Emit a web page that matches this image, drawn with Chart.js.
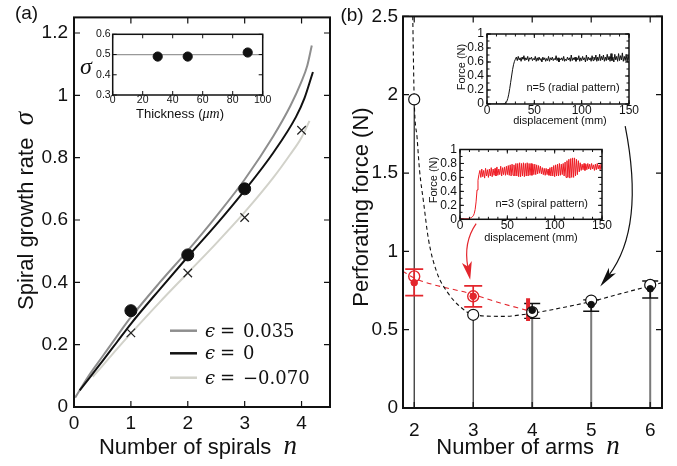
<!DOCTYPE html>
<html>
<head>
<meta charset="utf-8">
<script src="https://cdn.jsdelivr.net/npm/chart.js@4.4.1/dist/chart.umd.min.js"></script>
<style>
  html, body { margin: 0; padding: 0; background: #fff; }
  #wrap { position: relative; width: 677px; height: 466px; }
  #wrap canvas { position: absolute; left: 0; top: 0; }
</style>
</head>
<body>
<div id="wrap">
  <canvas id="mainA" width="677" height="466"></canvas>
  <canvas id="insetA" width="677" height="466"></canvas>
  <canvas id="mainB" width="677" height="466"></canvas>
  <canvas id="insetB1" width="677" height="466"></canvas>
  <canvas id="insetB2" width="677" height="466"></canvas>
</div>
<script>
/* ---------- panel (a): spiral growth rate ---------- */
const spiralN = [1, 2, 3];
const sigmaDots = [0.309, 0.488, 0.70];
const crossN = [1, 2, 3, 4];
const sigmaCross = [0.238, 0.43, 0.608, 0.888];

// model curves, eps = 0.035 / 0 / -0.070
const curvePosN = [0.02, 0.25, 0.5, 0.75, 1, 1.5, 2, 2.5, 3, 3.5, 3.8, 4.0, 4.1, 4.18];
const curvePosS = [0.03, 0.098, 0.162, 0.226, 0.288, 0.398, 0.502, 0.612, 0.73, 0.868, 0.965, 1.045, 1.095, 1.16];
const curveZeroN = [0.1, 0.3, 0.5, 0.75, 1, 1.5, 2, 2.5, 3, 3.5, 3.9, 4.05, 4.2];
const curveZeroS = [0.053, 0.10, 0.147, 0.207, 0.267, 0.376, 0.482, 0.585, 0.695, 0.815, 0.93, 0.99, 1.075];
const curveNegN = [0.33, 0.5, 0.75, 1, 1.5, 2, 2.5, 3, 3.5, 3.8, 4.0, 4.14];
const curveNegS = [0.097, 0.132, 0.185, 0.236, 0.335, 0.43, 0.525, 0.625, 0.735, 0.81, 0.865, 0.918];
const legendValues = ['0.035', '0', '\u22120.070'];

// inset (a): sigma vs thickness
const thickness = [30, 50, 90];
const sigmaThick = [0.49, 0.49, 0.51];
const sigmaRef = 0.5;

/* ---------- panel (b): perforating force ---------- */
const armsN = [2, 3, 4, 5, 6];
const forceOpen = [1.97, 0.595, 0.612, 0.686, 0.786];
const meanN = [4, 5, 6];
const forceMean = [0.624, 0.66, 0.761];
const errLo = [0.572, 0.618, 0.702];
const errHi = [0.667, 0.69, 0.811];
const redN = [2, 3];
const redOpen = [0.84, 0.713];
const redMean = [0.80, 0.713];
const redLo = [0.717, 0.645];
const redHi = [0.887, 0.78];
const redBarN = 3.93, redBarLo = 0.555, redBarHi = 0.70;
const fitN = [1.975, 2.0, 2.05, 2.09, 2.16, 2.24, 2.38, 2.58, 2.8, 3.0, 3.5, 4.0, 4.5, 5.0, 5.5, 6.0, 6.2];
const fitF = [2.5, 1.97, 1.72, 1.52, 1.31, 1.08, 0.87, 0.73, 0.64, 0.595, 0.585, 0.605, 0.64, 0.68, 0.73, 0.78, 0.80];
const redFitN = [1.8, 2, 3, 3.46, 3.9];
const redFitF = [0.875, 0.83, 0.725, 0.67, 0.625];
const blackArrow = [[5.576, 1.80], [5.915, 1.151], [5.153, 0.776]];
const redArrow = [[3.05, 1.177], [2.83, 1.058], [2.949, 0.819]];

// inset traces, force (N) every 1 mm of displacement, 0..150 mm
const radialForce = [
  0, 0, 0, 0, 0, 0, 0, 0, 0, 0,
  0, 0, 0, 0, 0, 0, 0, 0, 0.005, 0.01,
  0.02, 0.04, 0.08, 0.14, 0.22, 0.31, 0.40, 0.49, 0.56, 0.61,
  0.64, 0.67, 0.62, 0.68, 0.63, 0.66, 0.61, 0.67, 0.64, 0.69,
  0.62, 0.66, 0.63, 0.68, 0.61, 0.66, 0.64, 0.67, 0.62, 0.65,
  0.63, 0.68, 0.61, 0.66, 0.62, 0.67, 0.63, 0.65, 0.60, 0.67,
  0.63, 0.66, 0.61, 0.65, 0.62, 0.68, 0.61, 0.66, 0.63, 0.67,
  0.62, 0.65, 0.63, 0.69, 0.62, 0.66, 0.60, 0.65, 0.63, 0.66,
  0.62, 0.68, 0.61, 0.64, 0.62, 0.67, 0.63, 0.66, 0.61, 0.70,
  0.62, 0.66, 0.63, 0.67, 0.61, 0.66, 0.63, 0.69, 0.61, 0.66,
  0.62, 0.68, 0.63, 0.66, 0.60, 0.70, 0.62, 0.67, 0.63, 0.66,
  0.61, 0.69, 0.62, 0.67, 0.63, 0.70, 0.61, 0.67, 0.62, 0.71,
  0.62, 0.68, 0.63, 0.70, 0.61, 0.67, 0.62, 0.71, 0.63, 0.68,
  0.61, 0.72, 0.62, 0.67, 0.60, 0.71, 0.63, 0.68, 0.61, 0.72,
  0.62, 0.69, 0.63, 0.73, 0.61, 0.68, 0.62, 0.71, 0.60, 0.70,
  0.63
];
const spiralForce = [
  0.01, 0.01, 0.01, 0.01, 0.01, 0.01, 0.01, 0.01, 0.01, 0.012,
  0.015, 0.02, 0.025, 0.035, 0.05, 0.08, 0.14, 0.25, 0.42, 0.56,
  0.64, 0.70, 0.60, 0.72, 0.61, 0.70, 0.59, 0.73, 0.62, 0.71,
  0.60, 0.72, 0.62, 0.74, 0.61, 0.72, 0.63, 0.73, 0.62, 0.75,
  0.63, 0.72, 0.64, 0.76, 0.62, 0.74, 0.64, 0.75, 0.63, 0.76,
  0.64, 0.77, 0.63, 0.78, 0.62, 0.79, 0.63, 0.78, 0.62, 0.80,
  0.62, 0.80, 0.61, 0.81, 0.61, 0.80, 0.62, 0.81, 0.61, 0.80,
  0.62, 0.81, 0.62, 0.80, 0.63, 0.80, 0.63, 0.79, 0.64, 0.79,
  0.64, 0.78, 0.65, 0.77, 0.66, 0.76, 0.65, 0.74, 0.64, 0.73,
  0.63, 0.73, 0.64, 0.72, 0.63, 0.74, 0.62, 0.75, 0.62, 0.77,
  0.61, 0.78, 0.62, 0.79, 0.62, 0.80, 0.63, 0.79, 0.64, 0.80,
  0.62, 0.82, 0.60, 0.84, 0.60, 0.86, 0.59, 0.87, 0.60, 0.88,
  0.60, 0.88, 0.62, 0.86, 0.64, 0.84, 0.68, 0.81, 0.70, 0.79,
  0.71, 0.80, 0.70, 0.79, 0.71, 0.80, 0.72, 0.79, 0.71, 0.80,
  0.72, 0.78, 0.70, 0.79, 0.71, 0.80, 0.72, 0.78, 0.71, 0.79,
  0.72
];

/* ---------- shared helpers ---------- */
const W = 677, H = 466;
const SANS = '"Liberation Sans", Arial, sans-serif';
const SERIF = '"Liberation Serif", "Times New Roman", serif';
const RED = '#e3262d';
const INK = '#111';

const pts = (xs, ys) => xs.map((v, i) => ({ x: v, y: ys[i] }));

function steps(lo, hi, d) {
    const out = [];
    for (let v = Math.ceil(lo / d - 1e-9) * d; v <= hi + 1e-9; v += d) out.push(v);
    return out;
}

function axis(min, max, step, size, pad, fit, isY) {
    return {
        type: 'linear', min, max,
        grid: { display: false, drawTicks: false },
        border: { display: false },
        ticks: {
            stepSize: step, includeBounds: false, autoSkip: false, maxRotation: 0,
            padding: pad, color: INK, font: { family: SANS, size },
            callback: v => String(+v.toFixed(2))
        },
        afterFit: s => { if (isY) s.width = fit; else s.height = fit; }
    };
}

// frame l/t/r/b are page pixels; axis boxes get fixed sizes so the plot area lands there
function layoutFor(f, yW, xH) {
    return { padding: { left: f.l - yW, top: f.t, right: W - f.r, bottom: H - f.b - xH } };
}

// box round the plot with inward ticks on all four sides
function frameTicks(o) {
    return {
        id: 'frameTicks',
        afterDatasetsDraw(chart) {
            const { ctx, chartArea: a, scales: { x, y } } = chart;
            ctx.save();
            ctx.strokeStyle = INK;
            ctx.lineWidth = o.tickW;
            ctx.beginPath();
            const mark = (vals, len, alongX) => vals.forEach(v => {
                if (alongX) {
                    const p = x.getPixelForValue(v);
                    ctx.moveTo(p, a.bottom); ctx.lineTo(p, a.bottom - len);
                    ctx.moveTo(p, a.top); ctx.lineTo(p, a.top + len);
                } else {
                    const p = y.getPixelForValue(v);
                    ctx.moveTo(a.left, p); ctx.lineTo(a.left + len, p);
                    ctx.moveTo(a.right, p); ctx.lineTo(a.right - len, p);
                }
            });
            mark(x.ticks.map(t => t.value), o.len, true);
            mark(y.ticks.map(t => t.value), o.len, false);
            if (o.minorX) mark(steps(x.min, x.max, o.minorX), o.minorLen, true);
            if (o.minorY) mark(steps(y.min, y.max, o.minorY), o.minorLen, false);
            ctx.stroke();
            ctx.lineWidth = o.frameW;
            ctx.strokeRect(a.left, a.top, a.right - a.left, a.bottom - a.top);
            ctx.restore();
        }
    };
}

// text made of runs in different fonts, centred on (x, y) baseline
function textRuns(ctx, parts, x, y, rotate) {
    ctx.save();
    ctx.translate(x, y);
    if (rotate) ctx.rotate(rotate);
    ctx.textBaseline = 'alphabetic';
    ctx.textAlign = 'left';
    let total = 0;
    parts.forEach(p => { ctx.font = p[1]; total += ctx.measureText(p[0]).width; });
    let cx = -total / 2;
    parts.forEach(p => {
        ctx.font = p[1];
        ctx.fillStyle = p[2] || INK;
        ctx.fillText(p[0], cx, 0);
        cx += ctx.measureText(p[0]).width;
    });
    ctx.restore();
}

function drawArrow(ctx, x, y, path, color, headLen, headW) {
    const [p0, c, p1] = path.map(([n, f]) => [x.getPixelForValue(n), y.getPixelForValue(f)]);
    const ang = Math.atan2(p1[1] - c[1], p1[0] - c[0]);
    const cos = Math.cos(ang), sin = Math.sin(ang);
    ctx.save();
    ctx.strokeStyle = color;
    ctx.fillStyle = color;
    ctx.lineWidth = 1.2;
    ctx.beginPath();
    ctx.moveTo(p0[0], p0[1]);
    ctx.quadraticCurveTo(c[0], c[1], p1[0] - cos * headLen * 0.7, p1[1] - sin * headLen * 0.7);
    ctx.stroke();
    ctx.beginPath();
    ctx.moveTo(p1[0], p1[1]);
    ctx.lineTo(p1[0] - cos * headLen - sin * headW, p1[1] - sin * headLen + cos * headW);
    ctx.lineTo(p1[0] - cos * headLen * 0.75, p1[1] - sin * headLen * 0.75);
    ctx.lineTo(p1[0] - cos * headLen + sin * headW, p1[1] - sin * headLen - cos * headW);
    ctx.closePath();
    ctx.fill();
    ctx.restore();
}

const baseOpts = (layout, scales) => ({
    responsive: false, animation: false, events: [],
    layout, scales,
    plugins: { legend: { display: false }, tooltip: { enabled: false } }
});

/* ---------- chart (a) ---------- */
const frameA = { l: 74, t: 13, r: 330, b: 407 };
new Chart(document.getElementById('mainA'), {
    type: 'line',
    data: {
        datasets: [
            { data: pts(spiralN, sigmaDots), showLine: false, pointRadius: 6, pointBackgroundColor: INK, pointBorderColor: INK, order: 0 },
            { data: pts(crossN, sigmaCross), showLine: false, pointStyle: 'crossRot', pointRadius: 6, pointBorderColor: '#222', pointBorderWidth: 1.2, order: 1 },
            { data: pts(curveNegN, curveNegS), borderColor: '#d2d2ca', borderWidth: 2, pointRadius: 0, cubicInterpolationMode: 'monotone', order: 4 },
            { data: pts(curvePosN, curvePosS), borderColor: '#8e8e8e', borderWidth: 2, pointRadius: 0, cubicInterpolationMode: 'monotone', order: 3 },
            { data: pts(curveZeroN, curveZeroS), borderColor: INK, borderWidth: 2, pointRadius: 0, cubicInterpolationMode: 'monotone', order: 2 }
        ]
    },
    options: baseOpts(layoutFor(frameA, 60, 40), {
        x: axis(0, 4.5, 1, 19, 5, 40, false),
        y: axis(0, 1.25, 0.2, 19, 6, 60, true)
    }),
    plugins: [
        frameTicks({ len: 6, tickW: 1.2, frameW: 2 }),
        {
            id: 'decorA',
            afterDraw(chart) {
                const ctx = chart.ctx;
                // legend
                const colors = ['#8e8e8e', INK, '#d2d2ca'];
                const rows = [330.7, 353.3, 377.7];
                rows.forEach((ry, i) => {
                    ctx.save();
                    ctx.strokeStyle = colors[i];
                    ctx.lineWidth = 2.5;
                    ctx.beginPath(); ctx.moveTo(170, ry); ctx.lineTo(197, ry); ctx.stroke();
                    ctx.fillStyle = INK;
                    ctx.textBaseline = 'alphabetic';
                    ctx.font = 'italic 18px "DejaVu Serif", serif';
                    ctx.fillText('\u03f5', 205, ry + 6);
                    ctx.font = '18px "DejaVu Serif", serif';
                    ctx.fillText('=', 220, ry + 6);
                    ctx.fillText(legendValues[i], 243, ry + 6);
                    ctx.restore();
                });
                textRuns(ctx, [['Number of spirals  ', '22px ' + SANS], ['n', 'italic 27px ' + SERIF]], 198, 454);
                textRuns(ctx, [['Spiral growth rate  ', '22px ' + SANS], ['\u03c3', 'italic 27px ' + SERIF]], 33, 211, -Math.PI / 2);
                textRuns(ctx, [['(a)', '19px ' + SANS]], 26.5, 19);
            }
        }
    ]
});

/* ---------- inset (a) ---------- */
const frameAi = { l: 112.7, t: 34.3, r: 262.7, b: 95 };
new Chart(document.getElementById('insetA'), {
    type: 'line',
    data: {
        datasets: [
            { data: pts(thickness, sigmaThick), showLine: false, pointRadius: 4.6, pointBackgroundColor: INK, pointBorderColor: INK, order: 0 },
            { data: pts([0, 100], [sigmaRef, sigmaRef]), borderColor: '#999', borderWidth: 1.2, pointRadius: 0, order: 1 }
        ]
    },
    options: baseOpts(layoutFor(frameAi, 30, 20), {
        x: axis(0, 100, 20, 10.5, -1, 20, false),
        y: axis(0.3, 0.6, 0.1, 10.5, 2, 30, true)
    }),
    plugins: [
        frameTicks({ len: 4, tickW: 1, frameW: 1.5 }),
        {
            id: 'decorAi',
            afterDraw(chart) {
                const ctx = chart.ctx;
                textRuns(ctx, [['\u03c3', 'italic 24px ' + SERIF]], 86, 74);
                textRuns(ctx, [['Thickness (', '13px ' + SANS], ['\u03bcm', 'italic 14px ' + SERIF], [')', '13px ' + SANS]], 180, 117.5);
            }
        }
    ]
});

/* ---------- chart (b) ---------- */
const frameB = { l: 403, t: 12, r: 662, b: 408 };
new Chart(document.getElementById('mainB'), {
    type: 'line',
    data: {
        datasets: [
            { data: pts(meanN, forceMean), showLine: false, pointRadius: 3.3, pointBackgroundColor: INK, pointBorderColor: INK, order: 0 },
            { data: pts(redN, redMean), showLine: false, pointRadius: 3.3, pointBackgroundColor: RED, pointBorderColor: RED, order: 1 },
            { data: pts(redN, redOpen), showLine: false, pointRadius: 5.5, pointBackgroundColor: 'rgba(255,255,255,0)', pointBorderColor: RED, pointBorderWidth: 1.4, order: 2 },
            { data: pts(armsN, forceOpen), showLine: false, pointRadius: 5.5, pointBackgroundColor: '#fff', pointBorderColor: INK, pointBorderWidth: 1.2, order: 3 },
            { data: pts(fitN, fitF), borderColor: INK, borderWidth: 1.1, borderDash: [4, 3], pointRadius: 0, cubicInterpolationMode: 'monotone', order: 4 },
            { data: pts(redFitN, redFitF), borderColor: RED, borderWidth: 1.1, borderDash: [5, 4], pointRadius: 0, cubicInterpolationMode: 'monotone', order: 5 }
        ]
    },
    options: baseOpts(layoutFor(frameB, 50, 40), {
        x: axis(1.81, 6.2, 1, 19, 11, 40, false),
        y: axis(0, 2.5, 0.5, 19, 5, 50, true)
    }),
    plugins: [
        {
            id: 'barsB',
            beforeDatasetsDraw(chart) {
                const { ctx, chartArea: a, scales: { x, y } } = chart;
                const vbar = (n, lo, hi, color, w, cap) => {
                    const px = x.getPixelForValue(n);
                    ctx.strokeStyle = color;
                    ctx.lineWidth = w;
                    ctx.beginPath();
                    ctx.moveTo(px, y.getPixelForValue(lo));
                    ctx.lineTo(px, y.getPixelForValue(hi));
                    if (cap) {
                        [lo, hi].forEach(v => {
                            const py = y.getPixelForValue(v);
                            ctx.moveTo(px - cap, py); ctx.lineTo(px + cap, py);
                        });
                    }
                    ctx.stroke();
                };
                ctx.save();
                ctx.beginPath();
                ctx.rect(a.left, a.top, a.right - a.left, a.bottom - a.top);
                ctx.clip();
                armsN.forEach((n, i) => vbar(n, 0, forceOpen[i], i < 2 ? INK : '#7a7a7a', i < 2 ? 1.1 : 2, 0));
                meanN.forEach((n, i) => vbar(n, errLo[i], errHi[i], INK, 1.4, 8));
                redN.forEach((n, i) => vbar(n, redLo[i], redHi[i], RED, 1.7, 9));
                vbar(redBarN, redBarLo, redBarHi, RED, 4, 0);
                ctx.restore();
            },
            afterDatasetsDraw(chart) {
                const { ctx, scales: { x, y } } = chart;
                drawArrow(ctx, x, y, blackArrow, INK, 20, 4.5);
                drawArrow(ctx, x, y, redArrow, RED, 18, 5);
            }
        },
        frameTicks({ len: 6, tickW: 1.2, frameW: 2 }),
        {
            id: 'decorB',
            afterDraw(chart) {
                const ctx = chart.ctx;
                textRuns(ctx, [['Number of arms  ', '22px ' + SANS], ['n', 'italic 27px ' + SERIF]], 528, 454);
                textRuns(ctx, [['Perforating force (N)', '22px ' + SANS]], 368, 207, -Math.PI / 2);
                textRuns(ctx, [['(b)', '19px ' + SANS]], 352, 21);
            }
        }
    ]
});

/* ---------- insets (b) ---------- */
function forceInset(id, frame, trace, color, label, labelPos, forcePos, dispPos) {
    new Chart(document.getElementById(id), {
        type: 'line',
        data: {
            datasets: [
                { data: trace.map((v, i) => ({ x: i, y: v })), borderColor: color, borderWidth: 1, pointRadius: 0 }
            ]
        },
        options: baseOpts(layoutFor(frame, 30, 20), {
            x: axis(0, 150, 50, 12, -1, 20, false),
            y: axis(0, 1, 0.2, 12, 3, 30, true)
        }),
        plugins: [
            frameTicks({ len: 4, tickW: 1, frameW: 1.5, minorX: 10, minorY: 0.1, minorLen: 2.5 }),
            {
                id: 'decor' + id,
                afterDraw(chart) {
                    const ctx = chart.ctx;
                    textRuns(ctx, [[label, '11px ' + SANS]], labelPos[0], labelPos[1]);
                    textRuns(ctx, [['Force (N)', '11px ' + SANS]], forcePos[0], forcePos[1], -Math.PI / 2);
                    textRuns(ctx, [['displacement (mm)', '11px ' + SANS]], dispPos[0], dispPos[1]);
                }
            }
        ]
    });
}

forceInset('insetB1', { l: 487, t: 34, r: 629, b: 104 }, radialForce, '#111',
    'n=5 (radial pattern)', [573, 91], [465, 67], [560, 124]);
forceInset('insetB2', { l: 460, t: 149.5, r: 602, b: 219.3 }, spiralForce, '#ee1c24',
    'n=3 (spiral pattern)', [541.7, 206.5], [437, 180], [531, 241]);
</script>
</body>
</html>
